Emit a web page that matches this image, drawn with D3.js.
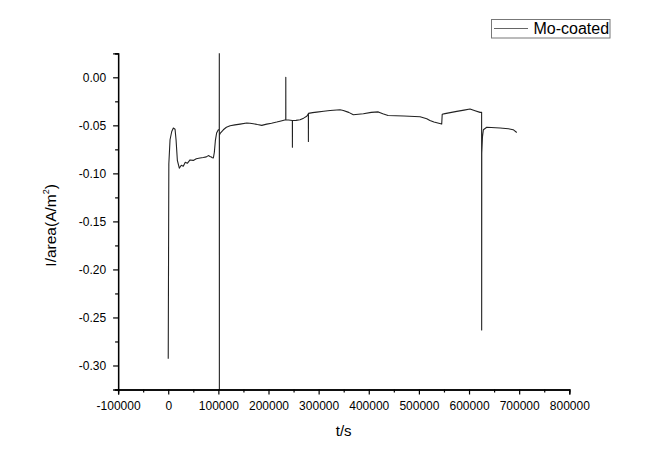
<!DOCTYPE html>
<html>
<head>
<meta charset="utf-8">
<script src="https://cdn.jsdelivr.net/npm/d3@7"></script>
<style>
  html, body { margin: 0; padding: 0; background: #fff; }
  svg { display: block; }
  text { font-family: "Liberation Sans", Arial, sans-serif; fill: #000; }
</style>
</head>
<body>
<div id="chart"></div>
<script>
// ---- data ----
const seriesName = "Mo-coated";
const timeS = [0, 1200, 3600, 7000, 10200, 13600, 15600, 18200, 22100, 26000, 30000, 34000, 38000, 43500,
  50000, 56000, 63400, 70000, 76000, 80000, 83400, 86000, 88000, 90000, 92000, 94000, 96500, 99900,
  101800, 101900, 102000, 102100, 104000, 109900, 116000, 123400, 133000, 143300, 156600, 163000, 169800,
  178000, 186500, 196500, 206000, 216400, 225000, 234400, 234500, 234600, 240000, 247600, 247700, 247800,
  255000, 262900, 270000, 276200, 279500, 279600, 279700, 288000, 296200, 310000, 322800, 342700, 349300,
  360000, 369200, 389200, 405000, 419000, 428000, 438500, 470000, 502300, 515700, 522000, 530000, 545500,
  546500, 552000, 575500, 590000, 602000, 612000, 622000, 625100, 625200, 625400, 626800, 628600, 635300,
  661900, 678400, 688000, 695200];
const currentDensity = [-0.2929, -0.090, -0.065, -0.0564, -0.0528, -0.054, -0.065, -0.0864, -0.0946, -0.0915,
  -0.0925, -0.0885, -0.0895, -0.086, -0.0865, -0.0848, -0.084, -0.0835, -0.0828, -0.0815, -0.0825, -0.083,
  -0.0838, -0.084, -0.078, -0.066, -0.058, -0.0546, -0.055, 0.04, -0.34, -0.060, -0.058, -0.0546, -0.052,
  -0.0504, -0.0495, -0.0487, -0.0476, -0.0478, -0.0483, -0.0492, -0.050, -0.0487, -0.0478, -0.0466, -0.0455,
  -0.0442, 0.0, -0.0442, -0.0445, -0.0449, -0.0727, -0.0449, -0.0448, -0.0442, -0.0425, -0.0405, -0.0379,
  -0.0668, -0.0375, -0.0368, -0.0362, -0.0353, -0.0345, -0.0337, -0.0345, -0.0365, -0.039, -0.0379, -0.0365,
  -0.036, -0.038, -0.0397, -0.0402, -0.041, -0.0431, -0.0449, -0.0465, -0.0487, -0.0385, -0.0378, -0.0355,
  -0.0342, -0.033, -0.0348, -0.0365, -0.0365, -0.263, -0.079, -0.062, -0.0546, -0.052, -0.0528, -0.0535,
  -0.0545, -0.0574];
const xTicks = [-100000, 0, 100000, 200000, 300000, 400000, 500000, 600000, 700000, 800000];
const xMinorTicks = [-50000, 50000, 150000, 250000, 350000, 450000, 550000, 650000, 750000];
const yTicks = [-0.30, -0.25, -0.20, -0.15, -0.10, -0.05, 0.00];
const yMinorTicks = [-0.325, -0.275, -0.225, -0.175, -0.125, -0.075, -0.025, 0.025];
const xDomain = [-100000, 800000];
const yDomain = [-0.325, 0.025];

const W = 661, H = 467;
const plot = { left: 118.1, right: 569.3, top: 53.3, bottom: 389.5 };

const svg = d3.select("#chart").append("svg").attr("width", W).attr("height", H);

const x = d3.scaleLinear().domain(xDomain).range([plot.left, plot.right]);
const y = d3.scaleLinear().domain(yDomain).range([plot.bottom, plot.top]);

// clip
svg.append("defs").append("clipPath").attr("id", "clip")
  .append("rect").attr("x", plot.left).attr("y", plot.top)
  .attr("width", plot.right - plot.left).attr("height", plot.bottom - plot.top);

const data = timeS.map((t, i) => ({ t, v: currentDensity[i] }));
const line = d3.line().x(d => x(d.t)).y(d => y(d.v));
svg.append("path").datum(data)
  .attr("clip-path", "url(#clip)")
  .attr("fill", "none").attr("stroke", "#222").attr("stroke-width", 1.1)
  .attr("stroke-linejoin", "round")
  .attr("d", line);

// hyphen-minus formatting like the reference
const fmtX = d => String(d);
const fmtY = d => d.toFixed(2).replace("−", "-");

// axes
const xAxis = d3.axisBottom(x).tickValues(xTicks).tickSize(5).tickPadding(7).tickFormat(fmtX);
const xMinor = d3.axisBottom(x).tickValues(xMinorTicks).tickSize(3).tickFormat("");
const yAxis = d3.axisLeft(y).tickValues(yTicks).tickSize(5).tickPadding(7).tickFormat(fmtY);
const yMinor = d3.axisLeft(y).tickValues(yMinorTicks).tickSize(3).tickFormat("");

function style(g) {
  g.select(".domain").attr("stroke", "#000").attr("stroke-width", 1.3);
  g.selectAll(".tick line").attr("stroke", "#000").attr("stroke-width", 1.2);
  g.selectAll("text").attr("font-size", 12).attr("font-family", "'Liberation Sans', Arial, sans-serif");
}
svg.append("g").attr("transform", `translate(0,${plot.bottom})`).call(xMinor).call(style);
svg.append("g").attr("transform", `translate(0,${plot.bottom})`).call(xAxis).call(style);
svg.append("g").attr("transform", `translate(${plot.left},0)`).call(yMinor).call(style);
svg.append("g").attr("transform", `translate(${plot.left},0)`).call(yAxis).call(style);

// axis titles
svg.append("text").attr("x", (plot.left + plot.right) / 2).attr("y", 436)
  .attr("text-anchor", "middle").attr("font-size", 15).text("t/s");

const yt = svg.append("text")
  .attr("transform", `translate(56,${(plot.top + plot.bottom) / 2 + 4}) rotate(-90)`)
  .attr("text-anchor", "middle").attr("font-size", 15.5);
yt.append("tspan").text("I/area(A/m");
yt.append("tspan").attr("font-size", 9).attr("dy", -7).text("2");
yt.append("tspan").attr("dy", 7).text(")");

// legend
const lg = svg.append("g");
lg.append("rect").attr("x", 491.5).attr("y", 19.5).attr("width", 118.5).attr("height", 18.5)
  .attr("fill", "#fff").attr("stroke", "#777").attr("stroke-width", 1);
lg.append("line").attr("x1", 494).attr("x2", 528).attr("y1", 28.5).attr("y2", 28.5)
  .attr("stroke", "#666").attr("stroke-width", 1);
lg.append("text").attr("x", 533.5).attr("y", 34.3).attr("font-size", 16).text(seriesName);
</script>
</body>
</html>
